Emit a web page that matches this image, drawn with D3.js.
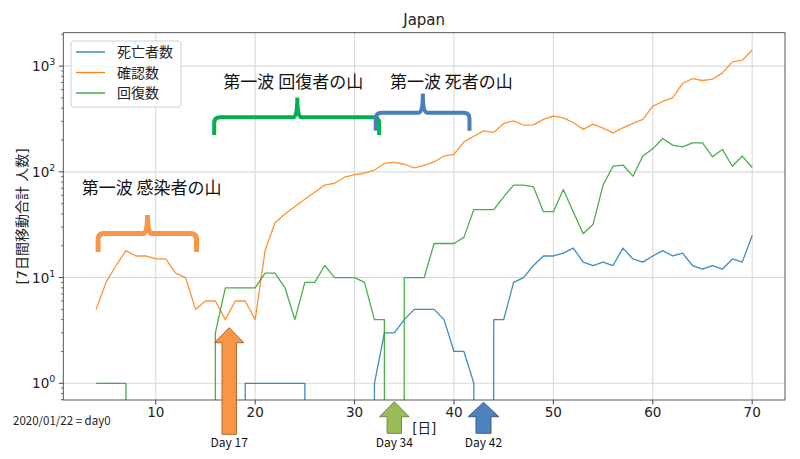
<!DOCTYPE html>
<html><head><meta charset="utf-8">
<script src="https://cdn.jsdelivr.net/npm/d3@7"></script>
<style>
body{margin:0;background:#fff;}
svg{display:block;font-family:"DejaVu Sans","Noto Sans CJK JP",sans-serif;}
</style></head><body>
<svg id="c" width="800" height="459"></svg>
<script>
const days = d3.range(4, 71);
const confirmed = [5,9,13,18,16,16,15,15,11,10,5,6,6,4,6,6,4,18,33,40,47,55,64,75,78,89,94,97,104,120,123,118,109,115,124,141,146,192,217,244,236,287,303,276,278,313,336,324,293,252,283,259,234,261,287,313,418,463,500,685,763,731,752,863,1096,1137,1422];
const recovered = [1,1,1,1,0,0,0,0,0,0,0,0,3,8,8,8,8,11,11,8,4,9,9,13,10,10,10,9,4,4,0,10,10,10,21,21,21,24,44,44,44,58,75,75,72,42,42,68,42,26,32,75,113,116,91,141,165,207,179,172,188,188,139,163,113,141,110];
const deaths = [0,0,0,0,0,0,0,0,0,0,0,0,0,0,0,1,1,1,1,1,1,1,0,0,0,0,0,0,1,3,3,4,5,5,5,4,2,2,1,0,4,4,9,10,13,16,16,17,19,14,13,14,13,19,15,14,16,18,16,17,13,12,13,12,15,14,25];
const seriesNames = ["死亡者数","確認数","回復数"];
const xTicks = [10,20,30,40,50,60,70];
const yTicks = [1,10,100,1000];
const yTickExp = ["0","1","2","3"];
// annotations (x in day units)
const braces = [
  {from:4.2, to:14.1, mid:9.17, label:"第一波 感染者の山"},
  {from:15.88, to:32.47, mid:24.24, label:"第一波 回復者の山"},
  {from:32.13, to:41.56, mid:36.87, label:"第一波 死者の山"}
];
const arrows = [
  {day:17.39, label:"Day 17"},
  {day:34.0, label:"Day 34"},
  {day:42.97, label:"Day 42"}
];

const svg = d3.select("#c");
const L=63.3, R=785, T=32.7, B=400;
const x = d3.scaleLinear().domain([0.7,73.3]).range([L,R]);
const y = d3.scaleLog().domain([Math.pow(10,-0.158), Math.pow(10,3.316)]).range([B,T]);
const colors = ["#1f77b4","#ff7f0e","#2ca02c"];

svg.append("defs").append("clipPath").attr("id","clip")
  .append("rect").attr("x",L).attr("y",T).attr("width",R-L).attr("height",B-T);

// grid
const g = svg.append("g");
g.selectAll(".gx").data(xTicks).join("line")
  .attr("x1",d=>x(d)).attr("x2",d=>x(d)).attr("y1",T).attr("y2",B)
  .attr("stroke","#d9d9d9").attr("stroke-width",1.1);
g.selectAll(".gy").data(yTicks).join("line")
  .attr("y1",d=>y(d)).attr("y2",d=>y(d)).attr("x1",L).attr("x2",R)
  .attr("stroke","#d9d9d9").attr("stroke-width",1.1);

// lines
const sets = [deaths, confirmed, recovered];
const line = d3.line().x((d,i)=>x(days[i])).y(d=>y(Math.max(d,1e-300)));
const lg = svg.append("g").attr("clip-path","url(#clip)");
sets.forEach((s,k)=>{
  lg.append("path").datum(s).attr("d",line).attr("fill","none")
    .attr("stroke",colors[k]).attr("stroke-width",1.3).attr("stroke-opacity",0.85)
    .attr("stroke-linejoin","round");
});

// axes frame
svg.append("rect").attr("x",L).attr("y",T).attr("width",R-L).attr("height",B-T)
  .attr("fill","none").attr("stroke","#444").attr("stroke-width",0.9);

// x ticks
const xa = svg.append("g");
xa.selectAll("line").data(xTicks).join("line")
  .attr("x1",d=>x(d)).attr("x2",d=>x(d)).attr("y1",B).attr("y2",B+4.5).attr("stroke","#444");
xa.selectAll("text").data(xTicks).join("text")
  .attr("x",d=>x(d)).attr("y",B+17).attr("text-anchor","middle")
  .attr("font-size",13.5).attr("fill","#222").text(d=>d);

// y ticks
const ya = svg.append("g");
ya.selectAll("line").data(yTicks).join("line")
  .attr("x1",L-4.5).attr("x2",L).attr("y1",d=>y(d)).attr("y2",d=>y(d)).attr("stroke","#444");
const minors=[];
[0.1,1,10,100,1000].forEach(b=>{for(let m=2;m<=9;m++){const v=b*m; if(v>=y.domain()[0]&&v<=y.domain()[1]) minors.push(v);}});
ya.selectAll(".mn").data(minors).join("line")
  .attr("x1",L-2.5).attr("x2",L).attr("y1",d=>y(d)).attr("y2",d=>y(d)).attr("stroke","#444").attr("stroke-width",0.7);
const yt = ya.selectAll("text").data(yTicks).join("text")
  .attr("x",L-8).attr("y",d=>y(d)+5).attr("text-anchor","end").attr("font-size",13.5).attr("fill","#222");
yt.append("tspan").text("10");
yt.append("tspan").attr("dy",-6).attr("font-size",9.5).text((d,i)=>yTickExp[i]);

// title & labels
svg.append("text").attr("x",(L+R)/2).attr("y",25).attr("text-anchor","middle")
  .attr("font-size",15).attr("fill","#222").text("Japan");
svg.append("text").attr("transform",`translate(27,${(T+B)/2}) rotate(-90)`)
  .attr("text-anchor","middle").attr("font-size",14).attr("fill","#222")
  .text("[7日間移動合計 人数]");
svg.append("text").attr("x",(L+R)/2).attr("y",433).attr("text-anchor","middle")
  .attr("font-size",13.5).attr("fill","#222").text("[日]");
svg.append("text").attr("x",13).attr("y",425).attr("font-size",11.5).attr("fill","#222")
  .attr("font-family","'Noto Sans CJK JP',sans-serif").text("2020/01/22 = day0");

// legend
const leg = svg.append("g");
leg.append("rect").attr("x",71).attr("y",41).attr("width",110).attr("height",66).attr("rx",3)
  .attr("fill","#fff").attr("fill-opacity",0.85).attr("stroke","#d0d0d0");
seriesNames.forEach((n,k)=>{
  const yy = 52 + k*20.5;
  leg.append("line").attr("x1",76).attr("x2",105).attr("y1",yy).attr("y2",yy)
    .attr("stroke",colors[k]).attr("stroke-width",1.3);
  leg.append("text").attr("x",117).attr("y",yy+5).attr("font-size",14).attr("fill","#222").text(n);
});

// braces
const braceStyle = [
  {col:"#F79646", sw:5, top:233.5, bot:252, spike:215},
  {col:"#00B050", sw:4, top:117.3, bot:135, spike:97.5},
  {col:"#4A7EBB", sw:4, top:112.7, bot:130.7, spike:93.5}
];
braces.forEach((b,i)=>{
  const s=braceStyle[i], x0=x(b.from), x1=x(b.to), xm=x(b.mid), r=6;
  const p = `M${x0},${s.bot} L${x0},${s.top+r} Q${x0},${s.top} ${x0+r},${s.top} L${xm-4},${s.top} Q${xm},${s.top} ${xm},${s.spike} Q${xm},${s.top} ${xm+4},${s.top} L${x1-r},${s.top} Q${x1},${s.top} ${x1},${s.top+r} L${x1},${s.bot}`;
  svg.append("path").attr("d",p).attr("fill","none").attr("stroke",s.col).attr("stroke-width",s.sw);
});
const labelPos = [{x:2.55,y:194},{x:16.8,y:88},{x:33.57,y:88}];
braces.forEach((b,i)=>{
  svg.append("text").attr("x",x(labelPos[i].x)).attr("y",labelPos[i].y)
    .attr("font-size",17).attr("fill","#111").attr("font-family","'Noto Sans CJK JP',sans-serif")
    .text(b.label);
});

// arrows
const arrowStyle = [
  {fill:"#F79646", stroke:"#B3672B", tip:327.7, base:342.7, hw:14.7, sw:7.2, bot:434.3},
  {fill:"#9BBB59", stroke:"#71893F", tip:401.7, base:416.7, hw:14.8, sw:7.2, bot:433.3},
  {fill:"#4F81BD", stroke:"#385D8A", tip:402.3, base:416.7, hw:15.3, sw:7.5, bot:433.3}
];
arrows.forEach((a,i)=>{
  const s=arrowStyle[i], cx=x(a.day);
  const pts=[[cx,s.tip],[cx+s.hw,s.base],[cx+s.sw,s.base],[cx+s.sw,s.bot],[cx-s.sw,s.bot],[cx-s.sw,s.base],[cx-s.hw,s.base]];
  svg.append("path").attr("d","M"+pts.map(p=>p.join(",")).join("L")+"Z")
    .attr("fill",s.fill).attr("stroke",s.stroke).attr("stroke-width",1);
  svg.append("text").attr("x",cx).attr("y",447).attr("text-anchor","middle")
    .attr("font-size",12).attr("fill","#111").attr("font-family","'Noto Sans CJK JP',sans-serif")
    .text(a.label);
});
</script>
</body></html>
